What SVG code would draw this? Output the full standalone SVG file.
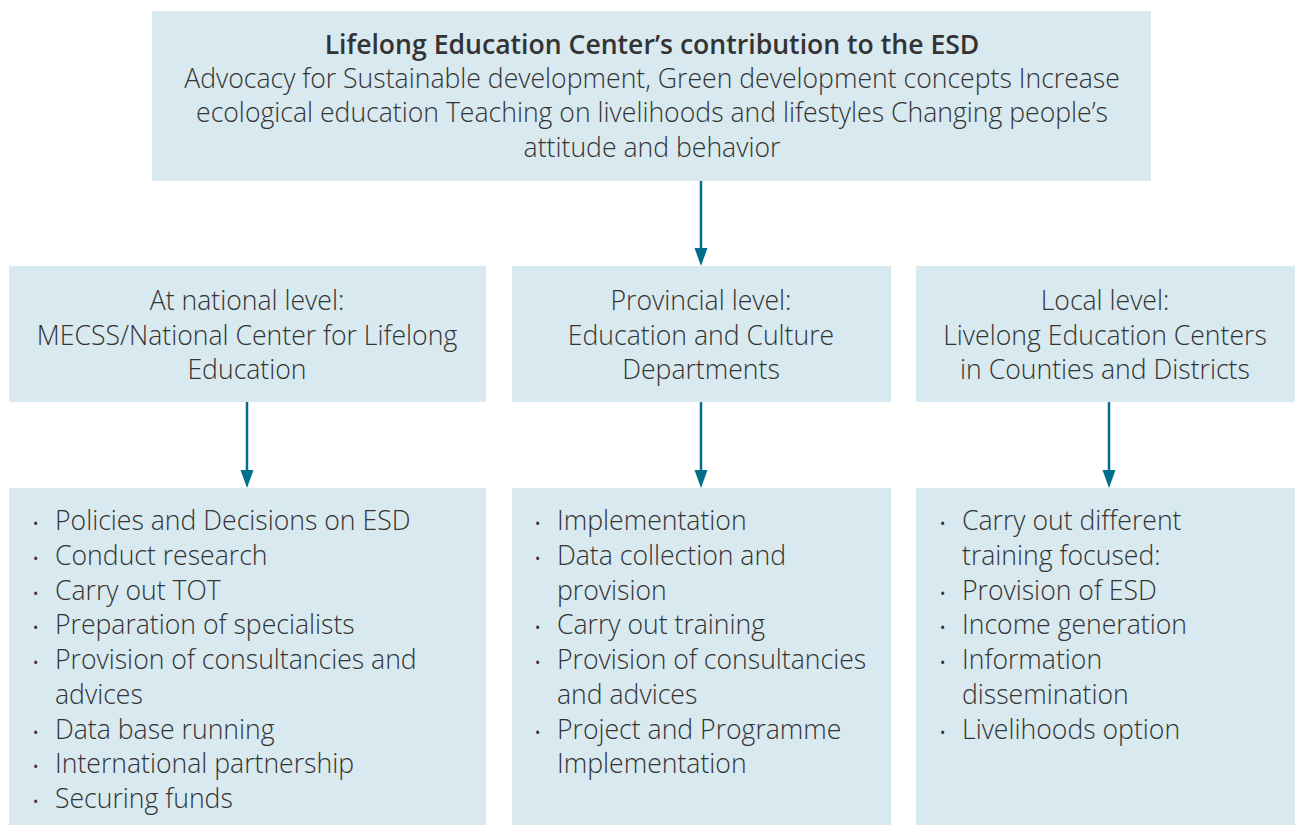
<svg xmlns="http://www.w3.org/2000/svg" width="1295" height="825" viewBox="0 0 1295 825">
<style>
.box{fill:#d9e9f0}
.t{font-family:"Open Sans","Liberation Sans",sans-serif;font-size:26.6px;font-weight:300;fill:#333333}
.c{text-anchor:middle}
.b{font-weight:600}
.dot{font-family:"Open Sans","Liberation Sans",sans-serif;font-size:14px;fill:#333333}
.con{stroke:#00708a;stroke-width:2.5;fill:none}
.ah{fill:#00708a}
</style>
<rect width="1295" height="825" fill="#ffffff"/>
<g id="connectors">
<path class="con" d="M701,181 V248"/>
<path class="ah" d="M694.5,248 L707.5,248 L701,266 Z"/>
<path class="con" d="M247,402 V470"/>
<path class="ah" d="M240.5,470 L253.5,470 L247,488 Z"/>
<path class="con" d="M701,402 V470"/>
<path class="ah" d="M694.5,470 L707.5,470 L701,488 Z"/>
<path class="con" d="M1109,402 V470"/>
<path class="ah" d="M1102.5,470 L1115.5,470 L1109,488 Z"/>
</g>
<g id="top">
<rect class="box" x="152" y="11" width="999" height="170"/>
<text class="t c b" x="652" y="54">Lifelong Education Center’s contribution to the ESD</text>
<text class="t c" x="652" y="88">Advocacy for Sustainable development, Green development concepts Increase</text>
<text class="t c" x="652" y="122">ecological education Teaching on livelihoods and lifestyles Changing people’s</text>
<text class="t c" x="652" y="157">attitude and behavior</text>
</g>
<g id="national">
<rect class="box" x="9" y="266" width="477" height="136"/>
<text class="t c" x="247" y="310">At national level:</text>
<text class="t c" x="247" y="345">MECSS/National Center for Lifelong</text>
<text class="t c" x="247" y="379">Education</text>
</g>
<g id="provincial">
<rect class="box" x="512" y="266" width="379" height="136"/>
<text class="t c" x="701" y="310">Provincial level:</text>
<text class="t c" x="701" y="345">Education and Culture</text>
<text class="t c" x="701" y="379">Departments</text>
</g>
<g id="local">
<rect class="box" x="916" y="266" width="379" height="136"/>
<text class="t c" x="1105" y="310">Local level:</text>
<text class="t c" x="1105" y="345">Livelong Education Centers</text>
<text class="t c" x="1105" y="379">in Counties and Districts</text>
</g>
<g id="national-tasks">
<rect class="box" x="9" y="488" width="477" height="337"/>
<text class="dot" x="33" y="529">•</text>
<text class="t" x="55" y="530">Policies and Decisions on ESD</text>
<text class="dot" x="33" y="564">•</text>
<text class="t" x="55" y="565">Conduct research</text>
<text class="dot" x="33" y="599">•</text>
<text class="t" x="55" y="600">Carry out TOT</text>
<text class="dot" x="33" y="633">•</text>
<text class="t" x="55" y="634">Preparation of specialists</text>
<text class="dot" x="33" y="668">•</text>
<text class="t" x="55" y="669">Provision of consultancies and</text>
<text class="t" x="55" y="704">advices</text>
<text class="dot" x="33" y="738">•</text>
<text class="t" x="55" y="739">Data base running</text>
<text class="dot" x="33" y="772">•</text>
<text class="t" x="55" y="773">International partnership</text>
<text class="dot" x="33" y="807">•</text>
<text class="t" x="55" y="808">Securing funds</text>
</g>
<g id="provincial-tasks">
<rect class="box" x="512" y="488" width="379" height="337"/>
<text class="dot" x="535" y="529">•</text>
<text class="t" x="557" y="530">Implementation</text>
<text class="dot" x="535" y="564">•</text>
<text class="t" x="557" y="565">Data collection and</text>
<text class="t" x="557" y="600">provision</text>
<text class="dot" x="535" y="633">•</text>
<text class="t" x="557" y="634">Carry out training</text>
<text class="dot" x="535" y="668">•</text>
<text class="t" x="557" y="669">Provision of consultancies</text>
<text class="t" x="557" y="704">and advices</text>
<text class="dot" x="535" y="738">•</text>
<text class="t" x="557" y="739">Project and Programme</text>
<text class="t" x="557" y="773">Implementation</text>
</g>
<g id="local-tasks">
<rect class="box" x="916" y="488" width="379" height="337"/>
<text class="dot" x="940" y="529">•</text>
<text class="t" x="962" y="530">Carry out different</text>
<text class="t" x="962" y="565">training focused:</text>
<text class="dot" x="940" y="599">•</text>
<text class="t" x="962" y="600">Provision of ESD</text>
<text class="dot" x="940" y="633">•</text>
<text class="t" x="962" y="634">Income generation</text>
<text class="dot" x="940" y="668">•</text>
<text class="t" x="962" y="669">Information</text>
<text class="t" x="962" y="704">dissemination</text>
<text class="dot" x="940" y="738">•</text>
<text class="t" x="962" y="739">Livelihoods option</text>
</g>
</svg>
